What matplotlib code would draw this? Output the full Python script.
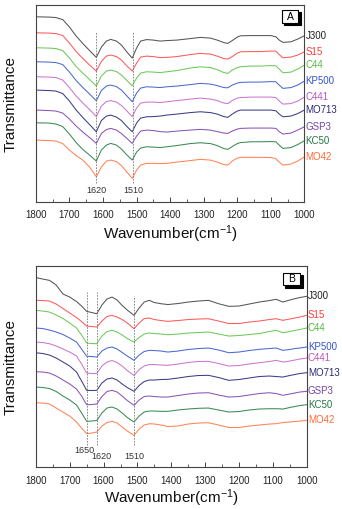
import matplotlib
matplotlib.use('Agg')
import matplotlib.pyplot as plt
from matplotlib.patches import Rectangle
from matplotlib.ticker import MultipleLocator

plt.rcParams['font.family'] = ['Liberation Sans', 'DejaVu Sans']
plt.rcParams['mathtext.default'] = 'regular'

# ---------------- data (arbitrary transmittance units, stacked) ----------------
names = ['J300', 'S15', 'C44', 'KP500', 'C441', 'MO713', 'GSP3', 'KC50', 'MO42']
colors = ['#555555', '#ff5a5a', '#6cc95a', '#4a6ad0', '#cc77cc', '#3c3c8c', '#8a55b8', '#3a8a55', '#ff8455']
label_colors = ['#222222', '#ff3b3b', '#55bb44', '#3355cc', '#bb55bb', '#2a2a7a', '#7744aa', '#227744', '#ff6a33']

wn_a = [1800, 1760, 1740, 1720, 1700, 1680, 1660, 1640, 1620, 1605, 1590, 1577, 1560, 1545,
        1530, 1513, 1500, 1488, 1470, 1450, 1430, 1410, 1380, 1340, 1310, 1280, 1260, 1240,
        1228, 1215, 1200, 1190, 1160, 1130, 1100, 1085, 1075, 1064, 1040, 1020, 1000]

a_J300 = [16.7, 17, 17.5, 19.5, 27, 36, 43.5, 50.5, 57.3, 47, 41, 39.3, 41, 45, 51.5, 58, 48, 41,
          39.5, 40, 41, 40.5, 40, 38.5, 37.3, 38, 40, 42.5, 43.3, 40.5, 37, 35.7, 35.5, 35.5, 35.5,
          36.7, 40, 42.3, 41.7, 39, 35.7]
a_S15 = [32.7, 33, 33.5, 35.5, 43, 51.5, 58.5, 65, 71, 61.5, 56, 55, 56.5, 60, 65.5, 71, 63, 57,
         56, 56.5, 57.5, 57.3, 56.5, 54.5, 53.3, 54, 56, 58.5, 59, 56.5, 53, 51.7, 51.5, 51.5, 51,
         51, 54.5, 57.7, 57, 55, 51.7]
a_C44 = [47.7, 48, 48.5, 50.5, 58, 66.5, 73, 79.5, 86, 76, 71, 70, 71.5, 75, 80, 85.7, 78, 73,
         71.7, 72, 72.5, 71.7, 70.5, 68, 66.7, 67.5, 69.5, 72.5, 73.3, 70, 67.5, 66.7, 66, 66, 65.5,
         65.7, 69, 72.7, 72, 69, 65]
a_KP500 = [61.7, 62, 62.5, 64.5, 72, 80.5, 87.5, 94, 100.7, 90.5, 86, 85, 86.5, 90, 95.5, 101.7,
           93, 88, 86.7, 87, 87.5, 86.7, 86, 84.5, 83.3, 84, 85.5, 87.5, 87.7, 85, 83, 82.3, 82,
           82, 81.5, 81.7, 85, 88.3, 87.5, 85, 81]
a_C441 = [76.7, 77, 77.5, 80, 87.5, 96, 103, 109.5, 116.5, 106, 101.5, 100.5, 102, 105.5, 110.5,
          116.5, 108, 103, 102, 102, 102.5, 101.7, 100.5, 99, 98, 99, 100.5, 103, 103.5, 100.5, 98,
          97.5, 97, 97, 97, 97.5, 101, 104, 103.5, 101, 97]
a_MO713 = [90, 90.5, 91, 93.5, 101, 110, 117.5, 124.5, 131.7, 120.5, 116, 115, 117, 120.5, 126,
           131.7, 123, 118, 116.7, 116.5, 116, 115, 114, 112.5, 111.7, 112.5, 114, 116.5, 117.3,
           114, 111, 110, 110, 110, 110, 110.7, 114, 116.7, 116, 113.5, 110]
a_GSP3 = [110, 110.5, 111, 113, 119, 126, 132, 137.5, 143.3, 133.5, 129.5, 128.3, 130, 133.5, 138,
          143.3, 136, 131, 130, 130.5, 131.5, 132, 131, 130, 129.3, 130, 131.5, 133, 133.3, 131,
          129, 128.3, 128, 128, 128, 128.3, 131.5, 134, 133, 130, 126.7]
a_KC50 = [122.7, 123, 124, 126.5, 134, 142.5, 149.5, 155, 161, 150, 145, 143.3, 145, 149, 154.5,
          160, 152, 148, 146.7, 147, 147.5, 146.7, 145.5, 143.5, 142.7, 143.5, 145.5, 148.5, 149.3,
          146.5, 143.5, 142.5, 141.7, 141.7, 141.5, 141.7, 145, 148.3, 147.5, 144.5, 140.7]
a_MO42 = [140, 140.5, 141, 143.5, 150, 155.5, 160, 167, 176.7, 167, 161, 160, 161.5, 165.5, 171.5,
          178.3, 170, 165, 163.3, 163.3, 163.5, 163.3, 162, 160.5, 159.3, 160, 162, 164.5, 165,
          161, 158, 157.3, 157.3, 157.3, 157.5, 158.5, 162, 165, 164, 161, 156.7]

wn_b = [1800, 1780, 1760, 1740, 1720, 1700, 1680, 1665, 1650, 1635, 1620, 1605, 1590, 1575, 1560,
        1545, 1530, 1510, 1495, 1480, 1465, 1450, 1430, 1410, 1380, 1350, 1320, 1290, 1260, 1230,
        1200, 1170, 1140, 1110, 1090, 1070, 1050, 1035, 1020, 1000]

b_J300 = [277.5, 279, 280.3, 285, 294, 297, 301.5, 306, 311.3, 312.5, 313.7, 305, 299, 297, 300,
          305.5, 310, 315.3, 308, 302, 300.3, 302.5, 303.7, 304.5, 303.5, 302, 301, 300.3, 303.7,
          306.3, 306, 304, 302, 300.5, 299.3, 302, 300, 298.7, 297.5, 296.3]
b_S15 = [300.3, 300.5, 301, 304, 308.5, 313, 317.5, 321.5, 326, 326.5, 327, 321, 316.5, 315.3, 317,
         319.5, 323, 328.7, 323, 318.5, 318, 319.5, 320.5, 321.3, 320.5, 319.5, 319, 318.7, 321,
         323.5, 323.5, 322, 321, 319.5, 318.7, 320.3, 319, 318, 317, 315.3]
b_C44 = [310.3, 311, 312, 315, 318.5, 323, 328, 335, 343, 343.5, 343.7, 336, 331.5, 330.3, 332, 335,
         338.5, 342, 337.5, 334, 333, 333.5, 334, 334.7, 334, 333, 332.5, 332, 334, 336, 335.5,
         334.5, 333.5, 331.5, 330.3, 332.7, 331.5, 330.5, 329.5, 328]
b_KP500 = [328, 328.5, 330, 332, 334.5, 338, 342, 349, 356.3, 356.5, 357, 351, 348, 347, 349, 352.5,
           356, 360.3, 355, 351.5, 350.3, 350.5, 351, 352, 351, 349.5, 348.5, 348, 350, 352.7, 352,
           350.5, 349.3, 348.5, 348, 350.3, 349.5, 348.5, 348, 347]
b_C441 = [342, 342.5, 343.7, 346, 349, 352, 356, 364, 373, 373.5, 373.5, 366, 362, 360.5, 362.5,
          366, 370.5, 375.5, 369.5, 366, 364.5, 364.5, 365, 365.3, 364, 362.5, 361.5, 361.3, 363.5,
          366, 365.5, 364, 362.7, 361.5, 360.3, 362, 361, 360, 359, 358]
b_MO713 = [352.7, 353.5, 355, 358, 362, 366, 372, 381, 390.3, 390.5, 390.3, 383, 379, 378, 380, 384,
           387.5, 391.3, 385.5, 381.5, 380, 380, 379.5, 379.3, 378, 376.5, 375.5, 375.3, 377.5,
           380.3, 379.5, 378, 376.5, 376, 376.5, 377, 375.5, 374.5, 373.5, 372.7]
b_GSP3 = [371.7, 372, 373, 376, 380, 384, 389, 396, 404.7, 404.5, 404, 396.5, 391.5, 390.3, 392, 396,
          400.5, 405.3, 400, 396.5, 396, 396.5, 397, 397, 395.5, 394, 393, 392.7, 395, 397, 396.5,
          395, 393.5, 392.7, 393.5, 395.3, 394, 393, 392, 391.3]
b_KC50 = [387, 387.5, 388.5, 391.5, 396, 400, 405, 413, 421.3, 421, 420.5, 413, 408, 407, 409, 413,
          417.5, 422, 416, 412, 411, 411, 411.3, 411.3, 410, 409, 408.3, 408, 410, 412, 411.5, 410,
          409, 408.7, 408.7, 409, 407.5, 406.5, 405.5, 404.7]
b_MO42 = [402.7, 403, 404, 408, 412, 416, 422, 428, 433.7, 433, 432, 426, 422.5, 421.3, 423, 427, 431,
          435.3, 429, 425, 423.7, 424, 425, 426.5, 426, 424, 423, 422.7, 425, 427.5, 427.5, 426, 425,
          424, 423.7, 422.5, 422, 421.5, 421, 420.3]

series_a = [a_J300, a_S15, a_C44, a_KP500, a_C441, a_MO713, a_GSP3, a_KC50, a_MO42]
series_b = [b_J300, b_S15, b_C44, b_KP500, b_C441, b_MO713, b_GSP3, b_KC50, b_MO42]

peaks_a = [1620, 1510]
peaks_b = [1650, 1620, 1510]
xticks = [1800, 1700, 1600, 1500, 1400, 1300, 1200, 1100, 1000]

# ---------------- figure ----------------
fig = plt.figure(figsize=(3.42, 5.09), dpi=100)
axA = fig.add_axes([0.105, 0.603, 0.785, 0.387])
axB = fig.add_axes([0.105, 0.0819, 0.7915, 0.396])

spine_col = '#444444'


def style(ax, ylim, pad, xpad):
    ax.set_xlim(1800, 1000)
    ax.set_ylim(*ylim)
    ax.set_xticks(xticks)
    ax.set_xticklabels([str(t) for t in xticks])
    ax.xaxis.set_minor_locator(MultipleLocator(50))
    ax.tick_params(axis='x', which='major', direction='in', length=3.5, width=0.7,
                   labelsize=7, pad=pad, color=spine_col, labelcolor='#222222')
    ax.tick_params(axis='x', which='minor', direction='in', length=2, width=0.6, color=spine_col)
    ax.set_yticks([])
    for s in ax.spines.values():
        s.set_color(spine_col)
        s.set_linewidth(0.8)
    ax.set_xlabel('Wavenumber(cm$^{-1}$)', fontsize=11, labelpad=xpad, color='#111111')
    ax.set_ylabel('Transmittance', fontsize=11, labelpad=13, color='#111111')


def draw(ax, wn, series):
    for name, ys, c, lc in zip(names, series, colors, label_colors):
        vals = [-v for v in ys]
        ax.plot(wn, vals, color=c, lw=0.75)
        ax.text(1.005, vals[-1], name, color=lc, fontsize=7, va='center', ha='left',
                transform=ax.get_yaxis_transform(), clip_on=False)


def tag(ax, letter, x0, x1, y0, y1):
    dx, dy = 0.009, 0.012
    ax.add_patch(Rectangle((x0 + dx, y0 - dy), x1 - x0, y1 - y0, transform=ax.transAxes,
                           facecolor='black', edgecolor='black', lw=0.8, zorder=5))
    ax.add_patch(Rectangle((x0, y0), x1 - x0, y1 - y0, transform=ax.transAxes,
                           facecolor='white', edgecolor='black', lw=0.8, zorder=6))
    ax.text((x0 + x1) / 2, (y0 + y1) / 2, letter, transform=ax.transAxes, ha='center',
            va='center', fontsize=7.5, zorder=7)


# Panel A
style(axA, (-202, -5), 6, 2.5)
draw(axA, wn_a, series_a)
for p in peaks_a:
    axA.axvline(p, ymin=0.096, ymax=0.863, color='#777777', lw=0.6, ls=(0, (2, 1.5)))
    axA.text(p, 0.057, str(p), transform=axA.get_xaxis_transform(), ha='center', va='center',
             fontsize=6.5, color='#333333')
tag(axA, 'A', 0.915, 0.978, 0.909, 0.975)

# Panel B
style(axB, (-467.3, -265.7), 6.5, 0.5)
draw(axB, wn_b, series_b)
vl_top = {1650: 0.871, 1620: 0.871, 1510: 0.85}
lbl_y = {1650: 0.081, 1620: 0.053, 1510: 0.053}
lbl_dx = {1650: 8, 1620: -14, 1510: 0}
for p in peaks_b:
    axB.axvline(p, ymin=0.111, ymax=vl_top[p], color='#777777', lw=0.6, ls=(0, (2, 1.5)))
    axB.text(p + lbl_dx[p], lbl_y[p], str(p), transform=axB.get_xaxis_transform(), ha='center',
             va='center', fontsize=6.5, color='#333333')
tag(axB, 'B', 0.912, 0.977, 0.904, 0.965)

fig.savefig('out.png', dpi=100)
